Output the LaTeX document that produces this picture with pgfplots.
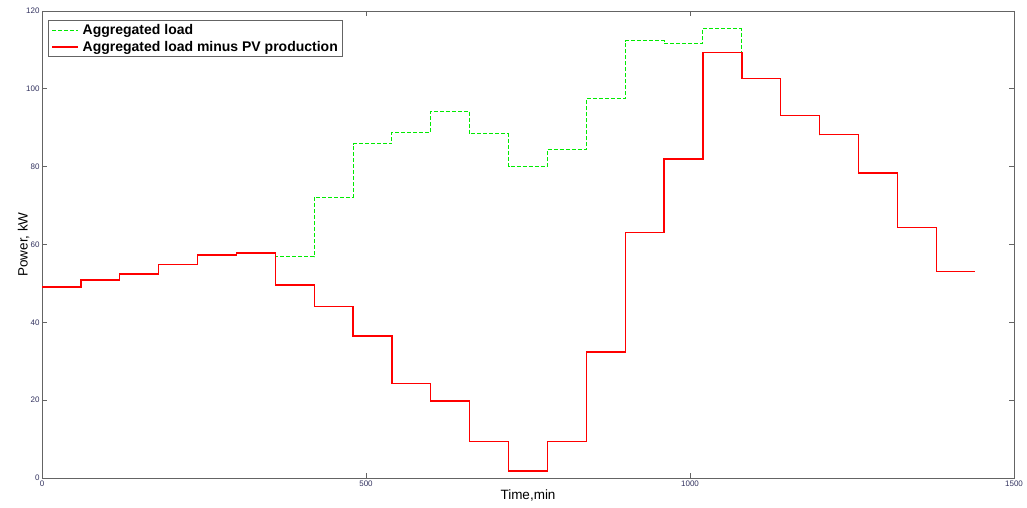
\documentclass[border=0pt]{standalone}
\usepackage{pgfplots}
\pgfplotsset{compat=1.18}
\usepackage{fontspec}
\setmainfont{Liberation Sans}
\definecolor{axgray}{RGB}{100,100,100}
\definecolor{ticktext}{RGB}{50,50,95}
\definecolor{lgreen}{RGB}{0,235,0}
\begin{document}
\begin{tikzpicture}
\begin{axis}[
  scale only axis,
  width=972pt, height=467pt,
  xmin=0, xmax=1500, ymin=0, ymax=120,
  xtick={0,500,1000,1500}, ytick={0,20,40,60,80,100,120},
  tick align=inside,
  major tick length=5pt,
  axis line style={axgray, line width=0.8pt},
  every tick/.style={axgray, line width=0.8pt},
  tick label style={font=\fontsize{8}{9}\selectfont, text=ticktext},
  /pgf/number format/assume math mode=true,
  /pgf/number format/1000 sep={},
  xticklabel style={yshift=1pt},
  yticklabel style={xshift=1pt},
  xlabel={Time,min},
  ylabel={Power, kW},
  label style={font=\fontsize{13.5}{15}\selectfont},
  xlabel style={yshift=3pt},
  ylabel style={yshift=-10pt},
  legend style={at={(rel axis cs:0,1)}, anchor=north west, xshift=6pt, yshift=-9pt,
    draw=axgray, line width=0.8pt, font=\fontsize{14}{15}\selectfont\bfseries,
    inner xsep=3pt, inner ysep=2pt, row sep=1pt,
    /tikz/every odd column/.append style={column sep=2pt}},
  legend cell align=left,
  legend image code/.code={\draw[mark repeat=2,mark phase=2,#1] plot coordinates {(0pt,0pt) (13pt,0pt) (26pt,0pt)};},
]
\coordinate (SW) at (rel axis cs:0,0);
\coordinate (NE) at (rel axis cs:1,1);
\addplot[const plot, color=lgreen, dash pattern=on 4pt off 2pt, line width=1pt] coordinates {
(0,49.1) (60,50.9) (120,52.4) (180,54.8) (240,57.3) (300,57.8)
(360,56.8) (420,72.2) (480,85.9) (540,88.9) (600,94.3) (660,88.4)
(720,80.0) (780,84.3) (840,97.4) (900,112.3) (960,111.6) (1020,115.4)
(1080,102.6) (1140,93.1) (1200,88.2) (1260,78.4) (1320,64.3) (1380,53.0) (1440,53.0)
};
\addlegendentry{Aggregated load}
\addplot[const plot, color=red, line width=1.3pt] coordinates {
(0,49.1) (60,50.9) (120,52.4) (180,54.8) (240,57.3) (300,57.8)
(360,49.6) (420,44.0) (480,36.5) (540,24.2) (600,19.8) (660,9.3)
(720,1.8) (780,9.3) (840,32.4) (900,63.0) (960,82.0) (1020,109.3)
(1080,102.6) (1140,93.1) (1200,88.2) (1260,78.4) (1320,64.3) (1380,53.0) (1440,53.0)
};
\addlegendentry{Aggregated load minus PV production}
\end{axis}
\pgfresetboundingbox
\path ([shift={(-42pt,-29pt)}]SW) rectangle ([shift={(13pt,11pt)}]NE);
\end{tikzpicture}
\end{document}
